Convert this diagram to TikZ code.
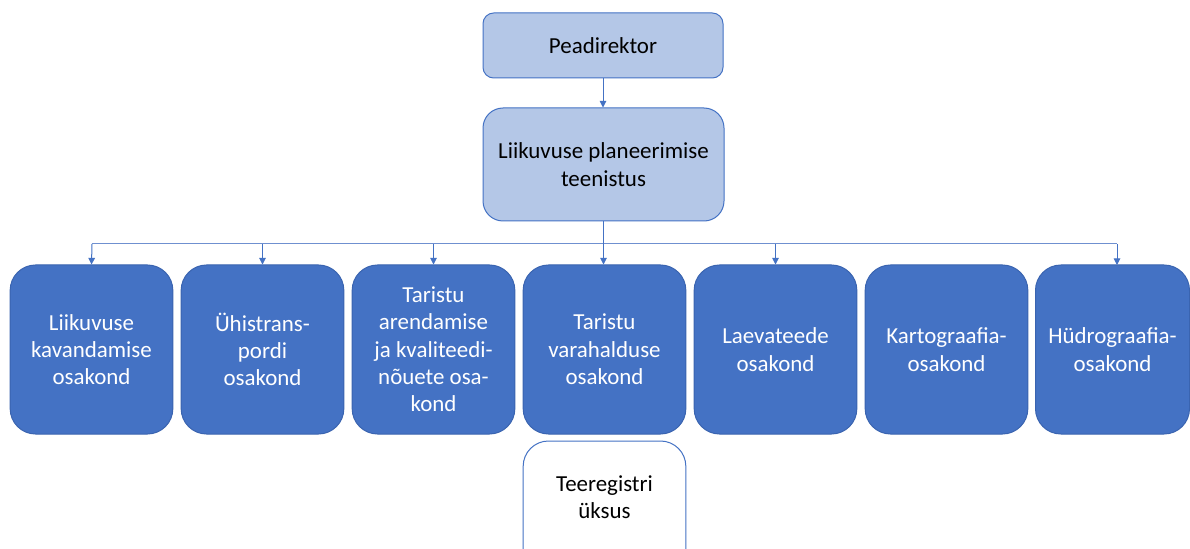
\documentclass[tikz,border=0pt]{standalone}
\usepackage{fontspec}
\setmainfont{Carlito}
\usetikzlibrary{arrows.meta}
\definecolor{dblue}{HTML}{4472C4}
\definecolor{lblue}{HTML}{B4C7E7}
\definecolor{bord}{HTML}{3A64B0}
\definecolor{busc}{HTML}{6F90D0}
\tikzset{
  txt/.style={font=\fontsize{17.2}{20.5}\selectfont},
  topbox/.style={txt, draw=dblue, line width=0.75pt, fill=lblue, rounded corners=8pt, align=center, inner sep=0pt, text=black},
  deptbox/.style={txt, draw=bord, line width=0.75pt, fill=dblue, rounded corners=19pt, align=center, inner sep=0pt,
    minimum width=122pt, minimum height=126.75pt, text=white},
  unitbox/.style={draw=dblue, line width=0.75pt, fill=white, rounded corners=19pt, inner sep=0pt,
    minimum width=122pt, minimum height=100pt},
  conn/.style={draw=dblue, line width=0.75pt, -{Triangle[width=5pt,length=5pt]}},
  bus/.style={draw=busc, line width=0.75pt}
}
\begin{document}
\begin{tikzpicture}[x=0.75pt,y=-0.75pt]
\clip (0,0) rectangle (1190,549);
\fill[white] (0,0) rectangle (1190,549);
\node[topbox, minimum width=180pt, minimum height=48.75pt] (ceo) at (603,45.5) {Peadirektor};
\node[topbox, rounded corners=15pt, minimum width=180.75pt, minimum height=84.75pt] (svc) at (603.5,164.5) {Liikuvuse planeerimise\\teenistus};
\node[deptbox] (d1) at (91.5,349.5) {Liikuvuse\\kavandamise\\osakond};
\node[deptbox] (d2) at (262.5,349.5) {Ühistrans-\\pordi\\osakond};
\node[deptbox] (d3) at (433.5,349.5) {Taristu\\arendamise\\ja kvaliteedi-\\nõuete osa-\\kond};
\node[deptbox] (d4) at (604.5,349.5) {Taristu\\varahalduse\\osakond};
\node[deptbox] (d5) at (775.5,349.5) {Laevateede\\osakond};
\node[deptbox] (d6) at (946.5,349.5) {Kartograafia-\\osakond};
\node[deptbox, minimum width=115.5pt] (d7) at (1112.5,349.5) {Hüdrograafia-\\osakond};
\node[unitbox, minimum height=120pt] (u1) at (604.5,521) {};
\node[txt, align=center, inner sep=0pt] (u1t) at (604.5,497) {Teeregistri\\üksus};
\coordinate (bl) at (92,244);
\coordinate (br) at (1117,244);
\draw[conn] (ceo.south) -- (ceo.south |- svc.north);
\draw[bus] (bl) -- (br);
\draw[conn] (svc.south) -- (d4.north -| svc.south);
\foreach \n/\x in {d1/92,d2/262.5,d3/433.5,d5/775.5}{
  \draw[conn] (\x,244) -- (\n.north);
}
\draw[conn] (br) -- (1117,265);
\end{tikzpicture}
\end{document}
